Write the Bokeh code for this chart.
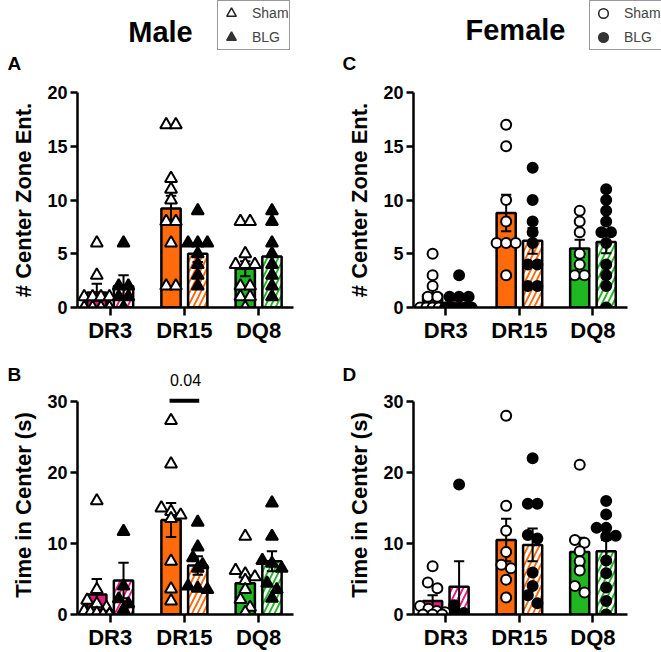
from bokeh.plotting import figure
from bokeh.layouts import column, row
from bokeh.models import FixedTicker, Label, Legend, LegendItem, Range1d
from bokeh.embed import file_html
from bokeh.resources import INLINE

FONT = "Liberation Sans"

# ---------------- data ----------------
categories = ["DR3", "DR15", "DQ8"]
cat_colors = ["#E8197F", "#FF6A0A", "#20B820"]
group_names = ["Sham", "BLG"]
sex_titles = ["Male", "Female"]
panel_letters = ["A", "B", "C", "D"]

# Male: # center zone entries
m_ent_sham = [[6, 3, 1, 1, 1, 1, 0, 0, 0, 0],
              [17, 17, 12, 11, 10, 8, 8, 6, 2, 2],
              [8, 8, 5, 4, 4, 4, 2, 2, 1, 1, 0]]
m_ent_sham_mean = [1.4, 9.2, 3.6]
m_ent_sham_sem = [0.8, 1.2, 0.7]
m_ent_blg = [[6, 2, 2, 1, 1, 0],
             [9, 6, 6, 6, 5, 4, 3, 2],
             [9, 8, 6, 5, 4, 3, 2, 1]]
m_ent_blg_mean = [2.0, 5.0, 4.75]
m_ent_blg_sem = [1.0, 0.77, 1.0]

# Male: time in center (s)
m_time_sham = [[16, 3.5, 2, 1.5, 1, 0.5, 0.3, 0.2, 0, 0],
               [27.3, 21.2, 15, 14.5, 14, 13.5, 7.5, 3.6, 1.9],
               [11, 6.2, 5.7, 5.3, 4.8, 3.5, 2.1, 1, 0.3]]
m_time_sham_mean = [2.8, 13.3, 4.4]
m_time_sham_sem = [2.2, 2.4, 0.9]
m_time_blg = [[11.7, 4, 2.2, 1.5, 0.7],
              [13, 9.5, 8, 7, 6.5, 4, 3.7, 3.5],
              [15.7, 11, 7.6, 7.2, 6.5, 4.4, 3.5, 2.3]]
m_time_blg_mean = [4.8, 6.9, 7.5]
m_time_blg_sem = [2.5, 1.3, 1.4]
sig_label = "0.04"
sig_category = "DR15"
sig_y = 30.1

# Female: # center zone entries
f_ent_sham = [[5, 3, 2, 1, 1, 0, 0, 0, 0, 0],
              [17, 15, 10, 8, 6, 6, 6, 3],
              [9, 8, 7, 5, 4, 3, 3]]
f_ent_sham_mean = [1.2, 8.8, 5.5]
f_ent_sham_sem = [0.55, 1.7, 0.8]
f_ent_blg = [[3, 1, 1, 1, 0, 0, 0, 0, 0],
             [13, 10, 8, 7, 6, 4, 4, 2, 2],
             [11, 10, 9, 8, 7, 7, 6, 4, 3, 2, 0]]
f_ent_blg_mean = [0.7, 6.2, 6.1]
f_ent_blg_sem = [0.35, 1.2, 1.05]

# Female: time in center (s)
f_time_sham = [[6.8, 4.5, 3.7, 1.2, 0.8, 0.5, 0.3, 0, 0, 0],
               [28, 15.3, 11.8, 8.8, 7, 6.5, 4.9, 2.4],
               [21.1, 10.5, 10.1, 8.9, 7.5, 6.2, 4, 3.1]]
f_time_sham_mean = [1.9, 10.5, 8.8]
f_time_sham_sem = [0.8, 3.0, 2.0]
f_time_blg = [[18.3, 1.3, 0.2, 0, 0],
              [22, 15.6, 15.6, 11.2, 10.7, 5.9, 4, 2.7, 1.6],
              [16, 14.1, 12.2, 12.2, 11.1, 11, 7.6, 5.8, 3.8, 1.9, 0]]
f_time_blg_mean = [3.9, 9.8, 8.9]
f_time_blg_sem = [3.6, 2.3, 1.6]

ent_ticks = [0, 5, 10, 15, 20]
time_ticks = [0, 10, 20, 30]

# ---------------- layout constants ----------------
X_START, X_END = 0.56, 3.47
OFF = 0.18
BAR_W = 0.26
CAP_HALF = 0.07
TOTAL_W = 661
NAN = float("nan")


def swarm(vals, center, px_per_unit):
    n = len(vals)
    order = sorted(range(n), key=lambda i: -vals[i])
    clusters = []
    for i in order:
        if clusters and abs(vals[clusters[-1][0]] - vals[i]) * px_per_unit < 8:
            clusters[-1].append(i)
        else:
            clusters.append([i])
    xs = [center] * n
    for cl in clusters:
        k = len(cl)
        step = min(0.13, 0.34 / (k - 1)) if k > 1 else 0
        for j, i in enumerate(cl):
            xs[i] = center + (j - (k - 1) / 2) * step
    return xs


def panel(width, height, bl, br, bt, bb, y_end, y_bounds, ticks, ylabel,
          sham, sham_mean, sham_sem, blg, blg_mean, blg_sem, marker, msize, px_per_unit):
    p = figure(width=width, height=height, output_backend="svg", toolbar_location=None,
               x_range=Range1d(X_START, X_END), y_range=Range1d(0, y_end),
               min_border_left=bl, min_border_right=br, min_border_top=bt, min_border_bottom=bb)
    p.outline_line_color = None
    p.xgrid.grid_line_color = None
    p.ygrid.grid_line_color = None

    idx = [i + 1 for i in range(len(categories))]
    xs_sham = [i - OFF for i in idx]
    xs_blg = [i + OFF for i in idx]
    p.vbar(x=xs_sham, top=sham_mean, bottom=0, width=BAR_W, fill_color=cat_colors,
           line_color="black", line_width=2.5)
    p.vbar(x=xs_blg, top=blg_mean, bottom=0, width=BAR_W, fill_color=cat_colors,
           line_color="black", line_width=2.5, hatch_pattern="/", hatch_color="white",
           hatch_weight=3, hatch_scale=11)

    for xs, m, s in ((xs_sham, sham_mean, sham_sem), (xs_blg, blg_mean, blg_sem)):
        lo = [a - b for a, b in zip(m, s)]
        hi = [a + b for a, b in zip(m, s)]
        p.segment(x0=xs, x1=xs, y0=lo, y1=hi, line_color="black", line_width=2)
        p.segment(x0=[x - CAP_HALF for x in xs], x1=[x + CAP_HALF for x in xs],
                  y0=hi, y1=hi, line_color="black", line_width=2)
        p.segment(x0=[x - CAP_HALF for x in xs], x1=[x + CAP_HALF for x in xs],
                  y0=lo, y1=lo, line_color="black", line_width=2)

    sx, sy, bx, by = [], [], [], []
    for k in range(len(categories)):
        sx += swarm(sham[k], xs_sham[k], px_per_unit)
        sy += sham[k]
        bx += swarm(blg[k], xs_blg[k], px_per_unit)
        by += blg[k]
    p.scatter(x=sx, y=sy, marker=marker, size=msize, fill_color="white",
              line_color="black", line_width=2)
    p.scatter(x=bx, y=by, marker=marker, size=msize, fill_color="black",
              line_color="black", line_width=2)

    p.xaxis.ticker = FixedTicker(ticks=idx)
    p.xaxis.major_label_overrides = {i: c for i, c in zip(idx, categories)}
    p.xaxis.major_label_text_font = FONT
    p.xaxis.major_label_text_font_style = "bold"
    p.xaxis.major_label_text_font_size = "22px"
    p.xaxis.major_label_text_color = "black"
    p.xaxis.major_label_standoff = 2
    p.xaxis.major_tick_out = 8
    p.xaxis.major_tick_in = 0
    p.xaxis.minor_tick_line_color = None

    p.yaxis.ticker = FixedTicker(ticks=ticks)
    p.yaxis.bounds = y_bounds
    p.yaxis.axis_label = ylabel
    p.yaxis.axis_label_text_font = FONT
    p.yaxis.axis_label_text_font_style = "bold"
    p.yaxis.axis_label_text_font_size = "22px"
    p.yaxis.axis_label_text_color = "black"
    p.yaxis.axis_label_standoff = 8
    p.yaxis.major_label_text_font = FONT
    p.yaxis.major_label_text_font_style = "bold"
    p.yaxis.major_label_text_font_size = "18px"
    p.yaxis.major_label_text_color = "black"
    p.yaxis.major_label_standoff = 3
    p.yaxis.major_tick_out = 7
    p.yaxis.major_tick_in = 0
    p.yaxis.minor_tick_line_color = None
    for ax in (p.xaxis, p.yaxis):
        ax.axis_line_width = 2.5
        ax.axis_line_color = "black"
        ax.major_tick_line_width = 2.5
        ax.major_tick_line_color = "black"
    return p


def blank(height):
    b = figure(width=TOTAL_W, height=height, output_backend="svg", toolbar_location=None,
               x_range=Range1d(0, TOTAL_W), y_range=Range1d(0, height),
               x_axis_type=None, y_axis_type=None,
               min_border_left=0, min_border_right=0, min_border_top=0, min_border_bottom=0)
    b.outline_line_color = None
    b.xgrid.grid_line_color = None
    b.ygrid.grid_line_color = None
    return b


BASE_SHIFT = 0.41  # label anchor offset (in em) for the alphabetic baseline


def add_label(p, x, y_base, text, size, bold=True, align="left"):
    p.add_layout(Label(x=x, y=y_base + BASE_SHIFT * size, text=text, text_font=FONT,
                       text_font_size=f"{size}px",
                       text_font_style="bold" if bold else "normal",
                       text_align=align, text_baseline="alphabetic", text_color="black"))


def add_legend(p, marker, vx, vy):
    r_sham = p.scatter(x=[NAN], y=[NAN], marker=marker, size=12, fill_color="white",
                       line_color="#222222", line_width=1.5)
    r_blg = p.scatter(x=[NAN], y=[NAN], marker=marker, size=12, fill_color="#333333",
                      line_color="#333333", line_width=1.5)
    lg = Legend(items=[LegendItem(label=group_names[0], renderers=[r_sham]),
                       LegendItem(label=group_names[1], renderers=[r_blg])],
                location=(vx, vy), border_line_color="#333333", border_line_width=1.5,
                label_text_font=FONT, label_text_font_size="14px", padding=0, spacing=0,
                glyph_width=26, glyph_height=24, label_standoff=8, margin=0,
                label_height=24, background_fill_alpha=1)
    p.add_layout(lg)


# ---------------- header (titles, legends, top letters) ----------------
HEAD_H = 75
head = blank(HEAD_H)
add_label(head, 160, HEAD_H - 43, sex_titles[0], 29, align="center")
add_label(head, 515, HEAD_H - 41, sex_titles[1], 29, align="center")
add_label(head, 7, HEAD_H - 71, panel_letters[0], 19)
add_label(head, 342, HEAD_H - 71, panel_letters[2], 19)
add_legend(head, "triangle", 217, HEAD_H - 50)
add_legend(head, "circle", 589, HEAD_H - 50)

# ---------------- top panels ----------------
ENT_PX = 215 / 20
TIME_PX = 214 / 30
pA = panel(330, 277, 77, 37, 17, 45, 20, (0, 20), ent_ticks, "# Center Zone Ent.",
           m_ent_sham, m_ent_sham_mean, m_ent_sham_sem,
           m_ent_blg, m_ent_blg_mean, m_ent_blg_sem, "triangle", 12, ENT_PX)
pC = panel(331, 277, 83, 34, 17, 45, 20, (0, 20), ent_ticks, "# Center Zone Ent.",
           f_ent_sham, f_ent_sham_mean, f_ent_sham_sem,
           f_ent_blg, f_ent_blg_mean, f_ent_blg_sem, "circle", 10, ENT_PX)

# ---------------- strip (lower letters, p value) ----------------
STRIP_H = 38
strip = blank(STRIP_H)
add_label(strip, 7, STRIP_H - 30, panel_letters[1], 19)
add_label(strip, 342, STRIP_H - 30, panel_letters[3], 19)
add_label(strip, 185, 4, sig_label, 16, bold=False, align="center")

# ---------------- bottom panels ----------------
B_FRAME = 220
T_END = B_FRAME / TIME_PX
pB = panel(330, 262, 77, 37, 5, 37, T_END, (0, 30), time_ticks, "Time in Center (s)",
           m_time_sham, m_time_sham_mean, m_time_sham_sem,
           m_time_blg, m_time_blg_mean, m_time_blg_sem, "triangle", 12, TIME_PX)
si = categories.index(sig_category) + 1
pB.segment(x0=[si - OFF - 0.02], x1=[si + OFF + 0.02], y0=[sig_y], y1=[sig_y],
           line_color="black", line_width=4)
pD = panel(331, 262, 83, 34, 5, 37, T_END, (0, 30), time_ticks, "Time in Center (s)",
           f_time_sham, f_time_sham_mean, f_time_sham_sem,
           f_time_blg, f_time_blg_mean, f_time_blg_sem, "circle", 10, TIME_PX)

layout = column(head, row(pA, pC), strip, row(pB, pD))

with open("out.html", "w") as f:
    f.write(file_html(layout, INLINE))
